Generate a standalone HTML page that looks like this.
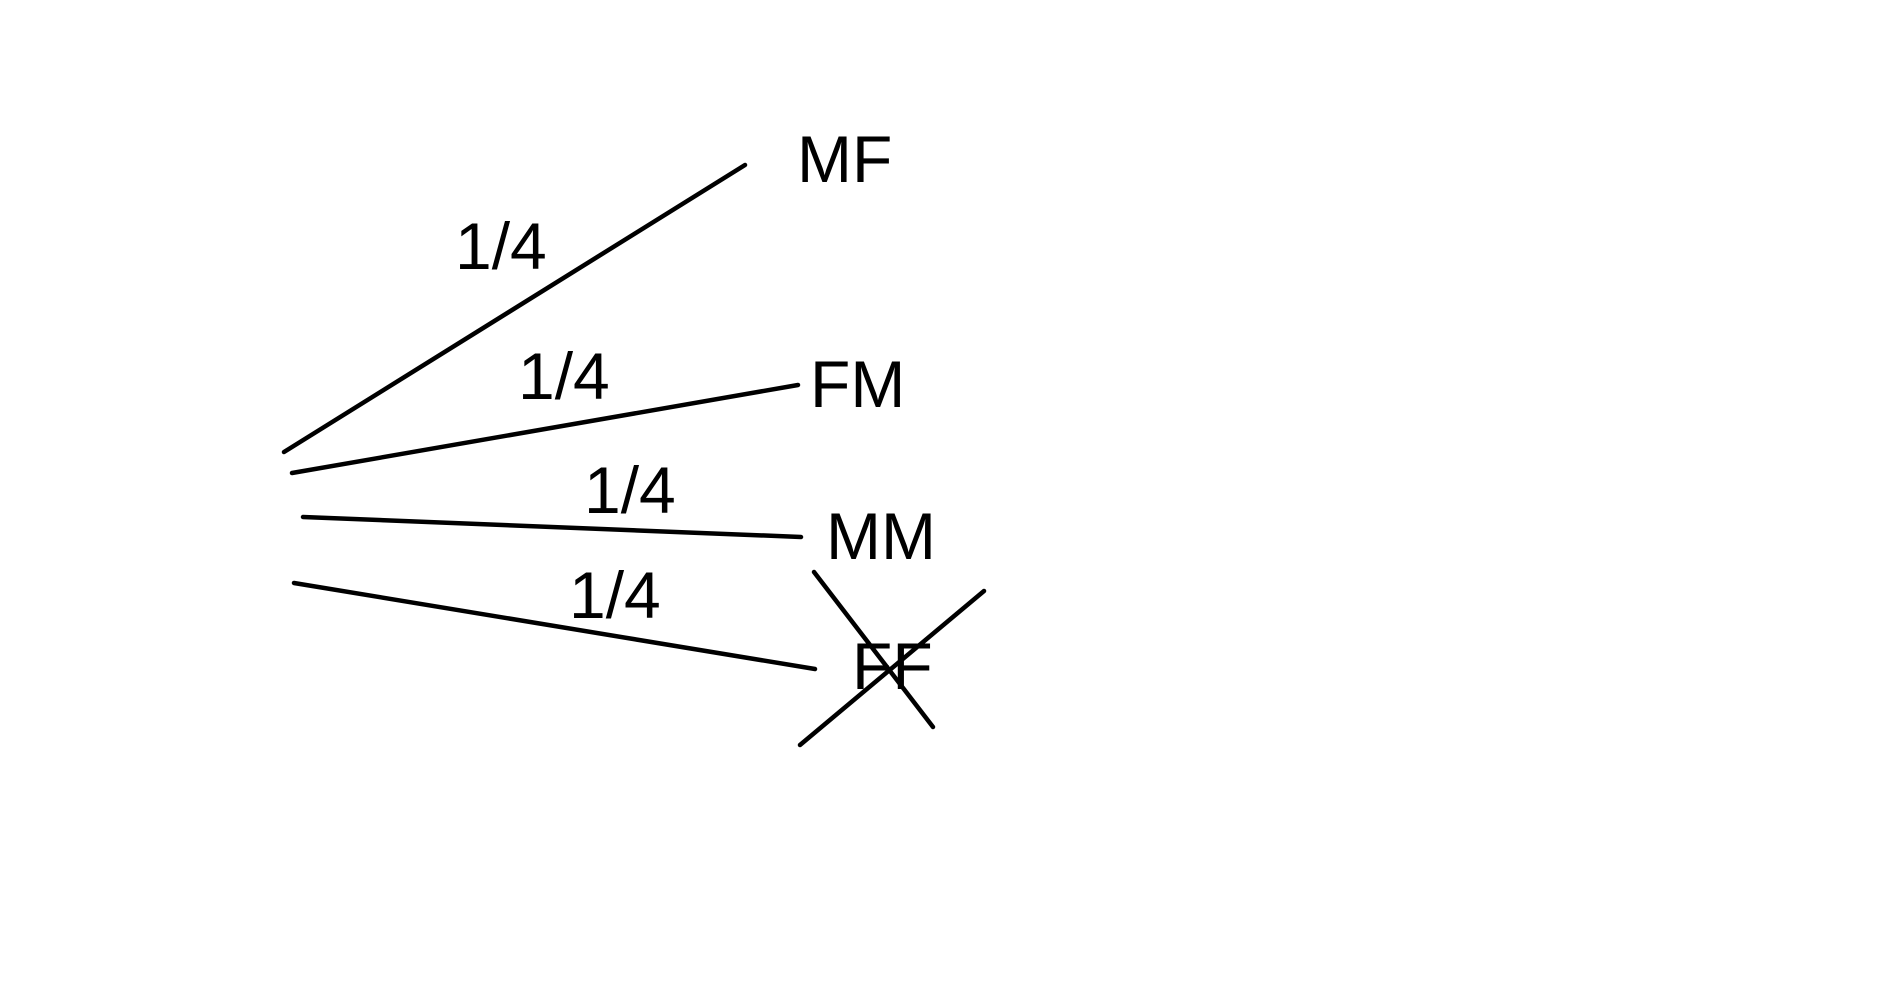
<!DOCTYPE html>
<html><head><style>
html,body{margin:0;padding:0;background:#fff;}
svg{display:block}
text{font-family:"Liberation Sans",sans-serif;font-size:66px;fill:#000}
</style></head><body>
<svg width="1897" height="1007" viewBox="0 0 1897 1007" xmlns="http://www.w3.org/2000/svg">
<g stroke="#000" stroke-width="4.5" stroke-linecap="round" fill="none">
<line x1="284" y1="452" x2="745" y2="165"/>
<line x1="292" y1="473" x2="798" y2="385"/>
<line x1="303" y1="517" x2="801" y2="537"/>
<line x1="294" y1="583" x2="815" y2="669"/>
<line x1="814" y1="572" x2="933" y2="727"/>
<line x1="984" y1="591" x2="800" y2="745"/>
</g>
<text x="797" y="182">MF</text>
<text x="810" y="407">FM</text>
<text x="826" y="559">MM</text>
<text x="852" y="689">FF</text>
<text x="455" y="269">1/4</text>
<text x="518" y="399">1/4</text>
<text x="584" y="513">1/4</text>
<text x="569" y="618">1/4</text>
</svg>
</body></html>
